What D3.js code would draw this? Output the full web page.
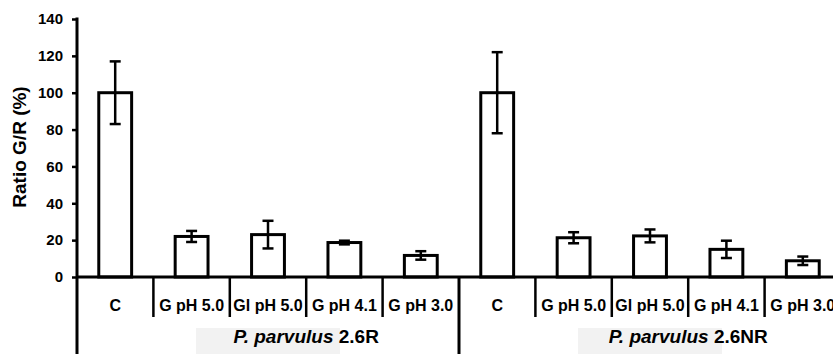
<!DOCTYPE html>
<html>
<head>
<meta charset="utf-8">
<script src="https://cdn.jsdelivr.net/npm/d3@7"></script>
<style>
  body { margin: 0; background: #fff; }
  text { font-family: "Liberation Sans", Arial, sans-serif; font-weight: bold; fill: #000; }
</style>
</head>
<body>
<div id="vis-container"></div>
<script>
// data
let species = "P. parvulus";
let strains = ["2.6R", "2.6NR"];
let treatments = ["C", "G pH 5.0", "Gl pH 5.0", "G pH 4.1", "G pH 3.0"];
let valuesR = [100, 22, 23, 18.7, 11.7];
let errR = [17, 3, 7.5, 1, 2.3];
let valuesNR = [100, 21.3, 22.3, 15, 8.8];
let errNR = [22, 3, 3.5, 4.7, 2.3];
let yTicks = [0, 20, 40, 60, 80, 100, 120, 140];

let w = 833;
let h = 354;

let svg = d3.select("#vis-container")
  .append("svg")
  .attr("width", w)
  .attr("height", h);

let data = [];
strains.forEach((s, i) => {
  let vals = i == 0 ? valuesR : valuesNR;
  let errs = i == 0 ? errR : errNR;
  treatments.forEach((t, j) => {
    data.push({key: s + "|" + t, strain: s, treat: t, value: vals[j], err: errs[j]});
  });
});

let x = d3.scaleBand()
  .domain(data.map(d => d.key))
  .range([77, 841])
  .padding(0);

let y = d3.scaleLinear()
  .domain([0, 140])
  .range([277, 19]);

let barW = x.bandwidth() * 0.43;

// grey boxes behind group labels
strains.forEach(s => {
  let x0 = x(s + "|" + treatments[0]);
  let x1 = x(s + "|" + treatments[treatments.length - 1]) + x.bandwidth();
  let cx = (x0 + x1) / 2;
  svg.append("rect")
    .attr("x", cx - 72)
    .attr("y", 328)
    .attr("width", 144)
    .attr("height", 30)
    .attr("fill", "#f2f2f2");
});

// bars
svg.selectAll("rect.bar")
  .data(data)
  .enter()
  .append("rect")
  .attr("class", "bar")
  .attr("x", d => x(d.key) + (x.bandwidth() - barW) / 2)
  .attr("y", d => y(d.value))
  .attr("width", barW)
  .attr("height", d => y(0) - y(d.value))
  .attr("fill", "#fff")
  .attr("stroke", "#000")
  .attr("stroke-width", 3);

// error bars
let eb = svg.selectAll("g.err")
  .data(data)
  .enter()
  .append("g")
  .attr("class", "err")
  .attr("transform", d => "translate(" + (x(d.key) + x.bandwidth() / 2) + ",0)");

eb.append("line")
  .attr("y1", d => y(d.value + d.err))
  .attr("y2", d => y(d.value - d.err))
  .attr("stroke", "#000")
  .attr("stroke-width", 2.5);

eb.selectAll("line.cap")
  .data(d => [d.value + d.err, d.value - d.err])
  .enter()
  .append("line")
  .attr("class", "cap")
  .attr("x1", -5.5)
  .attr("x2", 5.5)
  .attr("y1", v => y(v))
  .attr("y2", v => y(v))
  .attr("stroke", "#000")
  .attr("stroke-width", 2.5);

// y axis
let yAxis = svg.append("g")
  .attr("transform", "translate(77,0)")
  .call(d3.axisLeft(y).tickValues(yTicks).tickSize(5).tickPadding(9).tickSizeOuter(0));

yAxis.select(".domain").remove();
yAxis.selectAll(".tick line").attr("stroke", "#000").attr("stroke-width", 2.5);
yAxis.selectAll(".tick text")
  .style("font-family", "'Liberation Sans', Arial, sans-serif")
  .style("font-weight", "bold")
  .style("font-size", "15px")
  .attr("fill", "#000");

svg.append("line")
  .attr("x1", 77).attr("x2", 77)
  .attr("y1", y(140) - 1.5).attr("y2", h)
  .attr("stroke", "#000").attr("stroke-width", 3);

// x axis line
svg.append("line")
  .attr("x1", 76).attr("x2", w)
  .attr("y1", y(0)).attr("y2", y(0))
  .attr("stroke", "#000").attr("stroke-width", 3);

// separators between categories
let seps = data.filter(d => d.treat != treatments[0]);
svg.selectAll("line.sep")
  .data(seps)
  .enter()
  .append("line")
  .attr("class", "sep")
  .attr("x1", d => x(d.key))
  .attr("x2", d => x(d.key))
  .attr("y1", y(0))
  .attr("y2", 317)
  .attr("stroke", "#000")
  .attr("stroke-width", 2.5);

// separators between groups
svg.selectAll("line.gsep")
  .data(strains.slice(1))
  .enter()
  .append("line")
  .attr("class", "gsep")
  .attr("x1", s => x(s + "|" + treatments[0]))
  .attr("x2", s => x(s + "|" + treatments[0]))
  .attr("y1", y(0))
  .attr("y2", h)
  .attr("stroke", "#000")
  .attr("stroke-width", 3);

// category labels
svg.selectAll("text.cat")
  .data(data)
  .enter()
  .append("text")
  .attr("class", "cat")
  .attr("x", d => x(d.key) + x.bandwidth() / 2)
  .attr("y", 311)
  .attr("text-anchor", "middle")
  .style("font-size", "16px")
  .text(d => d.treat);

// group labels
strains.forEach(s => {
  let x0 = x(s + "|" + treatments[1]);
  let x1 = x(s + "|" + treatments[treatments.length - 1]) + x.bandwidth();
  let t = svg.append("text")
    .attr("x", (x0 + x1) / 2)
    .attr("y", 343)
    .attr("text-anchor", "middle")
    .style("font-size", "19px");
  t.append("tspan").style("font-style", "italic").text(species);
  t.append("tspan").text(" " + s);
});

// y title
svg.append("text")
  .attr("transform", "translate(26,147) rotate(-90)")
  .attr("text-anchor", "middle")
  .style("font-size", "19px")
  .text("Ratio G/R (%)");
</script>
</body>
</html>
